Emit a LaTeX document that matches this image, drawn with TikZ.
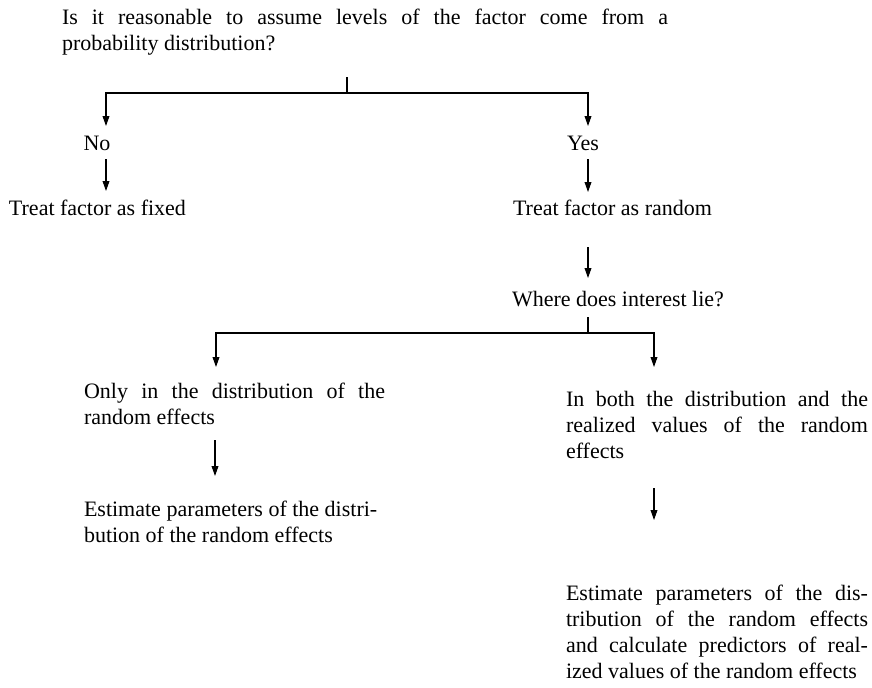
\documentclass[tikz,border=0pt]{standalone}
\usepackage{fontspec}
\setmainfont{Liberation Serif}
\usetikzlibrary{arrows.meta}
\tikzset{
  txt/.style={inner sep=0pt, outer sep=0pt, font=\fontsize{11}{13}\selectfont},
  para/.style={txt, text width=#1, align=justify, anchor=north west},
  arr/.style={-{Triangle[length=5pt,width=3.4pt]}, line width=0.55pt},
  ln/.style={line width=0.55pt}
}
\begin{document}
\begin{tikzpicture}[x=0.5pt,y=-0.5pt]
\useasboundingbox[fill=white] (0,0) rectangle (872,687);
% texts
\node[para=303pt] (q) at (62,9) {Is it reasonable to assume levels of the factor come from a\linebreak probability distribution?};
\node[txt] (no) at (97,143) {No};
\node[txt] (yes) at (583,143) {Yes};
\node[txt,anchor=west] (fixed) at (9,208) {Treat factor as fixed};
\node[txt,anchor=west] (random) at (513,208) {Treat factor as random};
\node[txt,anchor=west] (where) at (512,299) {Where does interest lie?};
\node[para=150.5pt] (only) at (84,383) {Only in the distribution of the\linebreak random effects};
\node[txt,anchor=north west,align=left] (est1) at (84,501) {Estimate parameters of the distri-\\bution of the random effects};
\node[para=151pt] (both) at (566,391) {In both the distribution and the\linebreak realized values of the random\linebreak effects};
\node[para=151pt] (est2) at (566,585) {Estimate parameters of the dis-\linebreak tribution of the random effects\linebreak and calculate predictors of real-\linebreak ized values of the random effects};
% coordinates
\coordinate (qT) at (347,77);
\coordinate (qB) at (347,93);
\coordinate (noTip) at (106,126);
\coordinate (yesTip) at (588,126);
\coordinate (noS) at (106,159);
\coordinate (fixedN) at (106,191);
\coordinate (yesS) at (588,159);
\coordinate (randomN) at (588,192);
\coordinate (randomS) at (588,247);
\coordinate (whereN) at (588,278);
\coordinate (wT) at (588,317);
\coordinate (wB) at (588,333);
\coordinate (onlyTip) at (216,367);
\coordinate (bothTip) at (654,367);
\coordinate (onlyS) at (215,440);
\coordinate (est1N) at (215,476);
\coordinate (bothS) at (654,488);
\coordinate (est2N) at (654,520);
% connectors
\draw[ln] (qT) -- (qB);
\draw[arr] (qB) -| (noTip);
\draw[arr] (qB) -| (yesTip);
\draw[arr] (noS) -- (fixedN);
\draw[arr] (yesS) -- (randomN);
\draw[arr] (randomS) -- (whereN);
\draw[ln] (wT) -- (wB);
\draw[arr] (wB) -| (onlyTip);
\draw[arr] (wB) -| (bothTip);
\draw[arr] (onlyS) -- (est1N);
\draw[arr] (bothS) -- (est2N);
\end{tikzpicture}
\end{document}
